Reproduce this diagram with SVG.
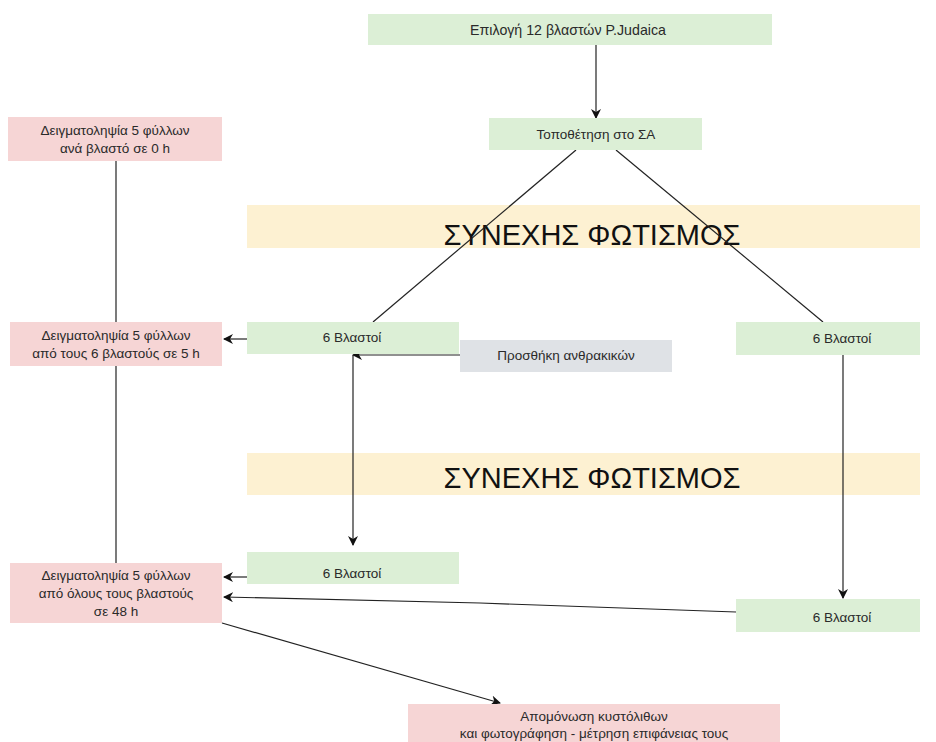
<svg xmlns="http://www.w3.org/2000/svg" width="936" height="742" viewBox="0 0 936 742">
<style>
text{font-family:"Liberation Sans",Arial,sans-serif;font-size:13.5px;fill:#2a2a2a;text-anchor:middle}
.g{fill:#dcefd6}.p{fill:#f6d5d5}.y{fill:#fdf1d2}.gr{fill:#dfe2e6}
.big{font-size:29px;fill:#111}
.c{stroke:#222;stroke-width:1.2;fill:none}
</style>
<defs>
<marker id="ah" viewBox="0 0 10 10" refX="9" refY="5" markerWidth="10" markerHeight="10" orient="auto" markerUnits="userSpaceOnUse">
<path d="M0,0 L10,5 L0,10 L3,5 Z" fill="#111"/>
</marker>
</defs>
<g id="band1"><rect class="y" x="247" y="205" width="673" height="43"/><text class="big" x="592" y="245">ΣΥΝΕΧΗΣ ΦΩΤΙΣΜΟΣ</text></g>
<g id="band2"><rect class="y" x="247" y="453" width="673" height="42"/><text class="big" x="592" y="488">ΣΥΝΕΧΗΣ ΦΩΤΙΣΜΟΣ</text></g>
<g id="connectors">
<line class="c" x1="596" y1="45" x2="596" y2="118" marker-end="url(#ah)"/>
<line class="c" x1="576" y1="150" x2="373" y2="322"/>
<line class="c" x1="616" y1="150" x2="823" y2="322"/>
<line class="c" x1="116" y1="161" x2="116" y2="322"/>
<line class="c" x1="116" y1="366" x2="116" y2="563"/>
<line class="c" x1="247" y1="339" x2="224" y2="339" marker-end="url(#ah)"/>
<polyline class="c" points="460,355 353,355" marker-end="url(#ah)"/>
<line class="c" x1="353" y1="355" x2="353" y2="545" marker-end="url(#ah)"/>
<line class="c" x1="843" y1="355" x2="843" y2="598" marker-end="url(#ah)"/>
<line class="c" x1="247" y1="577" x2="224" y2="577" marker-end="url(#ah)"/>
<path class="c" d="M736,612 L480,603 L224,597" marker-end="url(#ah)"/>
<line class="c" x1="222" y1="623" x2="500" y2="703" marker-end="url(#ah)"/>
</g>
<g id="n1"><rect class="g" x="368" y="14" width="404" height="31"/><text x="568" y="35" style="font-size:14.2px">Επιλογή 12 βλαστών P.Judaica</text></g>
<g id="n2"><rect class="g" x="489" y="118" width="213" height="32"/><text x="596" y="139">Τοποθέτηση στο ΣΑ</text></g>
<g id="s0"><rect class="p" x="8" y="117" width="214" height="44"/><text x="115" y="135">Δειγματοληψία 5 φύλλων</text><text x="115" y="153">ανά βλαστό σε 0 h</text></g>
<g id="s5"><rect class="p" x="10" y="322" width="212" height="44"/><text x="116" y="340">Δειγματοληψία 5 φύλλων</text><text x="116" y="358">από τους 6 βλαστούς σε 5 h</text></g>
<g id="b1"><rect class="g" x="247" y="322" width="212" height="32"/><text x="352" y="342">6 Βλαστοί</text></g>
<g id="add"><rect class="gr" x="460" y="340" width="212" height="32"/><text x="566" y="360">Προσθήκη ανθρακικών</text></g>
<g id="b2"><rect class="g" x="736" y="322" width="184" height="33"/><text x="842" y="343">6 Βλαστοί</text></g>
<g id="b3"><rect class="g" x="247" y="552" width="212" height="32"/><text x="352" y="578">6 Βλαστοί</text></g>
<g id="b4"><rect class="g" x="736" y="599" width="184" height="33"/><text x="842" y="622">6 Βλαστοί</text></g>
<g id="s48"><rect class="p" x="10" y="563" width="212" height="60"/><text x="116" y="580">Δειγματοληψία 5 φύλλων</text><text x="116" y="598">από όλους τους βλαστούς</text><text x="116" y="616">σε 48 h</text></g>
<g id="iso"><rect class="p" x="408" y="704" width="372" height="40"/><text x="594" y="721">Απομόνωση κυστόλιθων</text><text x="594" y="738">και φωτογράφηση - μέτρηση επιφάνειας τους</text></g>
</svg>
